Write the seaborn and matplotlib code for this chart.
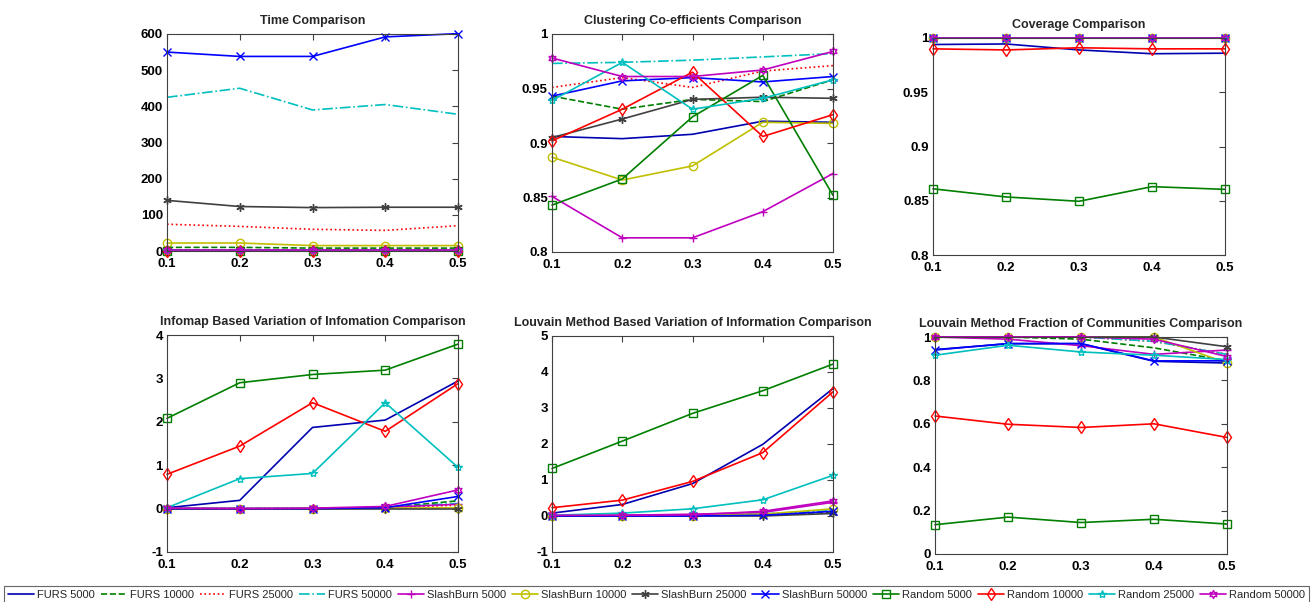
import numpy as np
import seaborn as sns
import matplotlib.pyplot as plt
from matplotlib.ticker import FormatStrFormatter

# x values (fraction)
X = [0.1, 0.2, 0.3, 0.4, 0.5]

NAMES = ["FURS 5000", "FURS 10000", "FURS 25000", "FURS 50000",
         "SlashBurn 5000", "SlashBurn 10000", "SlashBurn 25000", "SlashBurn 50000",
         "Random 5000", "Random 10000", "Random 25000", "Random 50000"]

# one row per series, same order as NAMES
time_vals = [
    [2, 2, 2, 2, 2],
    [10, 10, 8, 8, 8],
    [74, 68, 60, 57, 70],
    [425, 450, 390, 405, 378],
    [3, 3, 2, 2, 2],
    [22, 22, 15, 15, 15],
    [140, 123, 120, 121, 121],
    [550, 538, 538, 592, 601],
    [0.5, 0.5, 0.5, 0.5, 0.5],
    [1, 1, 1, 1, 1],
    [2, 2, 2, 2, 2],
    [3, 3, 3, 3, 3],
]

clustering_vals = [
    [0.906, 0.904, 0.908, 0.920, 0.919],
    [0.943, 0.931, 0.940, 0.938, 0.958],
    [0.951, 0.960, 0.951, 0.966, 0.971],
    [0.973, 0.974, 0.976, 0.979, 0.982],
    [0.851, 0.813, 0.813, 0.837, 0.872],
    [0.887, 0.866, 0.879, 0.919, 0.918],
    [0.905, 0.922, 0.940, 0.942, 0.941],
    [0.943, 0.957, 0.960, 0.956, 0.961],
    [0.843, 0.867, 0.924, 0.962, 0.852],
    [0.902, 0.931, 0.965, 0.906, 0.926],
    [0.939, 0.974, 0.931, 0.941, 0.958],
    [0.978, 0.961, 0.961, 0.967, 0.984],
]

coverage_vals = [
    [0.994, 0.9945, 0.989, 0.9855, 0.986],
    [1, 1, 1, 1, 1],
    [1, 1, 1, 1, 1],
    [1, 1, 1, 1, 1],
    [1, 1, 1, 1, 1],
    [1, 1, 1, 1, 1],
    [1, 1, 1, 1, 1],
    [1, 1, 1, 1, 1],
    [0.861, 0.8535, 0.8495, 0.863, 0.8605],
    [0.990, 0.989, 0.991, 0.990, 0.990],
    [1, 1, 1, 1, 1],
    [1, 1, 1, 1, 1],
]

infomap_vi_vals = [
    [0.02, 0.19, 1.87, 2.04, 2.94],
    [0, 0, 0, 0.02, 0.18],
    [0, 0, 0, 0.02, 0.08],
    [0, 0, 0, 0.03, 0.12],
    [0, 0, 0, 0.03, 0.10],
    [0, 0, 0, 0.01, 0.02],
    [0, 0, 0, 0, 0],
    [0, 0, 0, 0.02, 0.28],
    [2.08, 2.90, 3.09, 3.19, 3.79],
    [0.79, 1.44, 2.44, 1.78, 2.88],
    [0.02, 0.69, 0.81, 2.44, 0.95],
    [0.01, 0, 0.01, 0.05, 0.43],
]

louvain_vi_vals = [
    [0.08, 0.32, 0.90, 1.99, 3.54],
    [0, 0.01, 0.02, 0.04, 0.10],
    [0, 0.01, 0.02, 0.05, 0.12],
    [0, 0.01, 0.02, 0.06, 0.15],
    [0, 0.02, 0.05, 0.10, 0.38],
    [0, 0, 0.01, 0.05, 0.20],
    [0, 0, 0, 0, 0.07],
    [0, 0, 0, 0.02, 0.13],
    [1.32, 2.08, 2.85, 3.48, 4.22],
    [0.23, 0.44, 0.96, 1.76, 3.45],
    [0.02, 0.08, 0.20, 0.45, 1.13],
    [0.02, 0.02, 0.03, 0.13, 0.42],
]

louvain_frac_vals = [
    [0.942, 0.969, 0.969, 0.888, 0.880],
    [1, 1, 0.99, 0.95, 0.89],
    [1, 1, 1, 0.98, 0.92],
    [1, 1, 1, 0.98, 0.92],
    [1, 0.99, 0.96, 0.92, 0.94],
    [1, 1, 1, 1, 0.88],
    [1, 1, 1, 1, 0.955],
    [0.94, 0.97, 0.97, 0.89, 0.89],
    [0.135, 0.17, 0.145, 0.16, 0.138],
    [0.636, 0.598, 0.583, 0.600, 0.537],
    [0.916, 0.962, 0.931, 0.916, 0.896],
    [1, 1, 1, 0.99, 0.91],
]

# MATLAB-ish line styles
COLORS = ["#0000b0", "#007f00", "#ff0000", "#00bfbf",
          "#bf00bf", "#bfbf00", "#404040", "#0000ff",
          "#007f00", "#ff0000", "#00bfbf", "#bf00bf"]
STYLES = ["-", "--", ":", "-.", "-", "-", "-", "-", "-", "-", "-", "-"]
MARKERS = [None, None, None, None, "+", "o", (6, 2, 0), "x",
           "s", "d", "*", (6, 1, 0)]

sns.set_style("white")
plt.rcParams["font.family"] = ["Liberation Sans", "DejaVu Sans"]

fig = plt.figure(figsize=(13.16, 6.02), dpi=100)

panels = [
    ("Time Comparison", time_vals, (0, 600), [0, 100, 200, 300, 400, 500, 600],
     [167, 34, 291, 217]),
    ("Clustering Co-efficients Comparison", clustering_vals, (0.8, 1), [0.8, 0.85, 0.9, 0.95, 1],
     [552, 34, 281, 218]),
    ("Coverage Comparison", coverage_vals, (0.8, 1), [0.8, 0.85, 0.9, 0.95, 1],
     [933, 38, 292, 217]),
    ("Infomap Based Variation of Infomation Comparison", infomap_vi_vals, (-1, 4), [-1, 0, 1, 2, 3, 4],
     [167, 335, 291, 217]),
    ("Louvain Method Based Variation of Information Comparison", louvain_vi_vals, (-1, 5),
     [-1, 0, 1, 2, 3, 4, 5], [552, 336, 281, 216]),
    ("Louvain Method Fraction of Communities Comparison", louvain_frac_vals, (0, 1),
     [0, 0.2, 0.4, 0.6, 0.8, 1], [935, 337, 292, 217]),
]

W, H = 1316, 602
axes = []
for title, vals, ylim, yticks, (l, t, w, h) in panels:
    ax = fig.add_axes([l / W, 1 - (t + h) / H, w / W, h / H])
    for i, name in enumerate(NAMES):
        sns.lineplot(x=X, y=vals[i], ax=ax, color=COLORS[i], linestyle=STYLES[i],
                     marker=MARKERS[i], markersize=6, markerfacecolor="none",
                     markeredgecolor=COLORS[i], markeredgewidth=1.0,
                     linewidth=1.2, legend=False, clip_on=False)
    ax.set_xlim(0.1, 0.5)
    ax.set_ylim(*ylim)
    ax.set_xticks(X)
    ax.set_yticks(yticks)
    ax.xaxis.set_major_formatter(FormatStrFormatter("%g"))
    ax.yaxis.set_major_formatter(FormatStrFormatter("%g"))
    ax.tick_params(direction="in", length=4, width=0.8, top=True, right=True,
                   labelsize=9.5, colors="#404040", labelcolor="black")
    ax.tick_params(axis="x", pad=5)
    ax.tick_params(axis="y", pad=3)
    for lab in ax.get_xticklabels() + ax.get_yticklabels():
        lab.set_fontweight("bold")
    for sp in ax.spines.values():
        sp.set_visible(True)
        sp.set_color("#404040")
        sp.set_linewidth(0.8)
    ax.set_title(title, fontsize=9, fontweight="bold", pad=7)
    ax.set_xlabel("")
    ax.set_ylabel("")
    axes.append(ax)

handles = axes[0].get_lines()[:len(NAMES)]
leg = fig.legend(handles, NAMES, loc="upper left", bbox_to_anchor=(4 / W, 1 - 586 / H),
                 ncol=12, frameon=True, fancybox=False, edgecolor="#404040",
                 fontsize=8.0, handlelength=2.35, handletextpad=0.3,
                 columnspacing=0.5, borderpad=0.35, borderaxespad=0)
leg.get_frame().set_linewidth(0.8)

fig.savefig("out.png", dpi=100, facecolor="white")
